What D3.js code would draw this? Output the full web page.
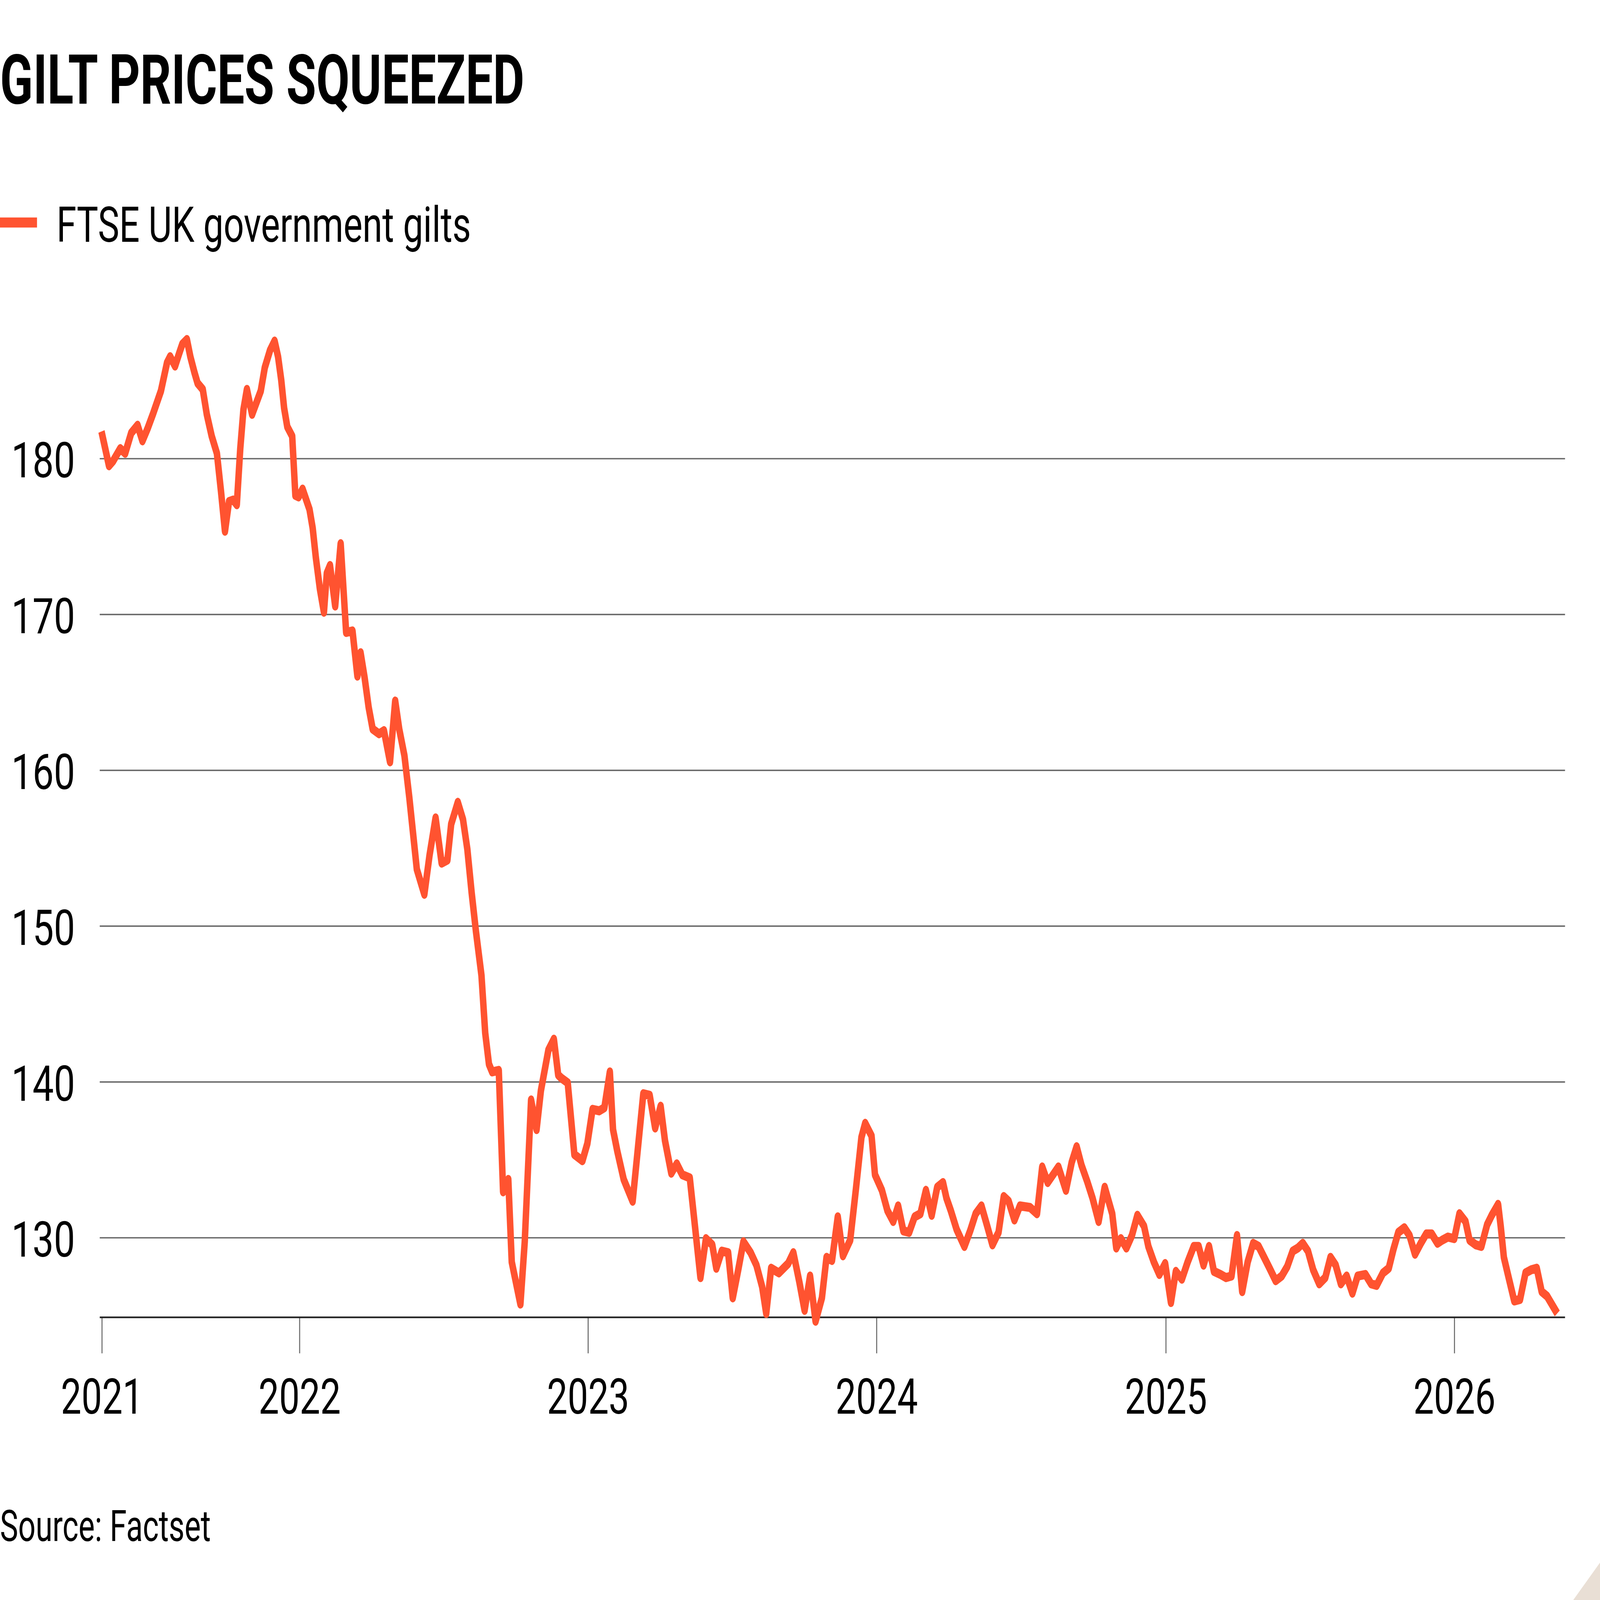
<!DOCTYPE html>
<html>
<head>
<meta charset="utf-8">
<script src="https://cdnjs.cloudflare.com/ajax/libs/d3/7.8.5/d3.min.js"></script>
<style>
  html, body { margin: 0; padding: 0; background: #fff; overflow: hidden; }
  svg { display: block; }
  text { font-family: Roboto, "Noto Sans", sans-serif; fill: #000; }
</style>
</head>
<body>
<svg id="chart"></svg>
<script>

// weekly-ish readings, decimal years
let time = [
  2021.315, 2021.341, 2021.355, 2021.380, 2021.397, 2021.418, 2021.440, 2021.457, 2021.475, 2021.493,
  2021.521, 2021.542, 2021.553, 2021.570, 2021.584, 2021.595, 2021.611, 2021.623, 2021.637, 2021.648,
  2021.666, 2021.680, 2021.697, 2021.715, 2021.729, 2021.743, 2021.757, 2021.772, 2021.784, 2021.796,
  2021.807, 2021.819, 2021.837, 2021.853, 2021.867, 2021.881, 2021.899, 2021.915, 2021.927, 2021.938,
  2021.948, 2021.959, 2021.976, 2021.987, 2021.998, 2022.012, 2022.036, 2022.047, 2022.058, 2022.072,
  2022.086, 2022.096, 2022.107, 2022.125, 2022.144, 2022.163, 2022.185, 2022.202, 2022.213, 2022.227,
  2022.241, 2022.255, 2022.277, 2022.294, 2022.315, 2022.333, 2022.347, 2022.365, 2022.382,
  2022.408, 2022.434, 2022.452, 2022.473, 2022.494, 2022.514, 2022.527, 2022.550, 2022.568, 2022.583,
  2022.598, 2022.613, 2022.632, 2022.645, 2022.658, 2022.669, 2022.692, 2022.707, 2022.725, 2022.737,
  2022.767, 2022.782, 2022.804, 2022.823, 2022.838, 2022.864, 2022.883, 2022.898, 2022.909, 2022.931,
  2022.954, 2022.982, 2022.999, 2023.017, 2023.040, 2023.058, 2023.077, 2023.088, 2023.103, 2023.125,
  2023.156, 2023.193, 2023.215, 2023.234, 2023.253, 2023.268, 2023.290, 2023.309, 2023.328, 2023.354,
  2023.372, 2023.391, 2023.410, 2023.432,
  2023.446, 2023.465, 2023.487, 2023.503, 2023.522, 2023.540, 2023.565, 2023.585, 2023.605, 2023.619,
  2023.636, 2023.663, 2023.695, 2023.713, 2023.734, 2023.752, 2023.771, 2023.790, 2023.812, 2023.828,
  2023.847, 2023.867, 2023.885, 2023.910, 2023.930, 2023.949, 2023.962, 2023.984, 2023.996, 2024.020,
  2024.039, 2024.059, 2024.076, 2024.094, 2024.114, 2024.133, 2024.153, 2024.172, 2024.192, 2024.211,
  2024.231, 2024.243, 2024.258, 2024.278, 2024.305, 2024.325, 2024.344, 2024.364, 2024.384, 2024.402,
  2024.423, 2024.441, 2024.458, 2024.478, 2024.497, 2024.532, 2024.556, 2024.574, 2024.593, 2024.630,
  2024.656, 2024.676, 2024.693, 2024.710, 2024.729, 2024.748, 2024.769, 2024.790, 2024.816, 2024.830,
  2024.846, 2024.865, 2024.884, 2024.903, 2024.926, 2024.941, 2024.960, 2024.979, 2024.999, 2025.019,
  2025.036, 2025.057, 2025.077, 2025.098, 2025.115, 2025.132, 2025.151, 2025.168, 2025.191, 2025.210,
  2025.229, 2025.248, 2025.266, 2025.285, 2025.304, 2025.323, 2025.342, 2025.361, 2025.382, 2025.403,
  2025.422, 2025.441, 2025.459, 2025.476, 2025.494, 2025.512, 2025.533, 2025.554, 2025.572, 2025.590,
  2025.608, 2025.628, 2025.648, 2025.666,
  2025.693, 2025.713, 2025.732, 2025.754, 2025.774, 2025.790, 2025.807, 2025.828, 2025.846, 2025.865,
  2025.885, 2025.904, 2025.923, 2025.943, 2025.959, 2025.979, 2026.001, 2026.019, 2026.040, 2026.054,
  2026.076, 2026.095, 2026.115, 2026.131, 2026.153, 2026.162, 2026.173, 2026.187, 2026.209, 2026.229,
  2026.248, 2026.268, 2026.287, 2026.304, 2026.323, 2026.358
];

let price = [
  181.7, 179.5, 179.8, 180.6, 180.3, 181.6, 182.1, 181.1, 181.9, 182.8,
  184.3, 186.1, 186.5, 185.9, 186.7, 187.3, 187.6, 186.5, 185.5, 184.8,
  184.4, 182.8, 181.4, 180.3, 177.9, 175.3, 177.2, 177.3, 177.0, 180.6,
  183.1, 184.4, 182.8, 183.6, 184.3, 185.8, 186.9, 187.5, 186.5, 185.0,
  183.2, 182.0, 181.4, 177.6, 177.5, 178.0, 176.7, 175.5, 173.6, 171.6,
  170.1, 172.6, 173.1, 170.5, 174.5, 168.8, 168.9, 166.0, 167.5, 165.9,
  164.0, 162.6, 162.3, 162.5, 160.5, 164.4, 162.6, 160.9, 158.2,
  153.6, 152.0, 154.5, 156.9, 154.0, 154.2, 156.5, 157.9, 156.8, 154.9,
  152.1, 149.6, 146.8, 143.1, 141.1, 140.6, 140.7, 132.9, 133.7, 128.4,
  125.7, 129.7, 138.8, 136.9, 139.4, 142.0, 142.7, 140.4, 140.2, 139.9,
  135.3, 134.9, 136.0, 138.2, 138.1, 138.3, 140.6, 136.9, 135.5, 133.7,
  132.3, 139.2, 139.1, 137.0, 138.4, 136.2, 134.1, 134.7, 134.0, 133.8,
  130.7, 127.4, 129.9, 129.5,
  128.0, 129.1, 129.0, 126.1, 127.9, 129.7, 129.0, 128.2, 126.8, 125.1,
  128.0, 127.7, 128.3, 129.0, 127.1, 125.3, 127.5, 124.6, 126.1, 128.7,
  128.5, 131.3, 128.8, 129.8, 133.1, 136.4, 137.3, 136.5, 134.0, 133.0,
  131.7, 131.0, 132.0, 130.4, 130.3, 131.3, 131.5, 133.0, 131.4, 133.2,
  133.5, 132.5, 131.7, 130.5, 129.4, 130.4, 131.5, 132.0, 130.7, 129.5,
  130.3, 132.6, 132.3, 131.1, 132.0, 131.9, 131.5, 134.5, 133.5, 134.5,
  133.0, 134.8, 135.8, 134.6, 133.6, 132.5, 131.0, 133.2, 131.5, 129.3,
  129.9, 129.3, 130.1, 131.4, 130.7, 129.4, 128.4, 127.6, 128.3, 125.8,
  127.8, 127.3, 128.4, 129.4, 129.4, 128.2, 129.4, 127.8, 127.6, 127.4,
  127.5, 130.1, 126.5, 128.4, 129.6, 129.4, 128.7, 128.0, 127.2, 127.5,
  128.1, 129.1, 129.3, 129.6, 129.1, 127.9, 127.0, 127.4, 128.7, 128.2,
  127.0, 127.5, 126.4, 127.5,
  127.6, 127.0, 126.9, 127.7, 128.0, 129.2, 130.3, 130.6, 130.1, 128.9,
  129.6, 130.2, 130.2, 129.6, 129.8, 130.0, 129.9, 131.5, 131.0, 129.8,
  129.5, 129.4, 130.8, 131.4, 132.1, 130.7, 128.7, 127.6, 125.9, 126.0,
  127.7, 127.9, 128.0, 126.5, 126.2, 125.1
];

let yTicks = [130, 140, 150, 160, 170, 180];
let xTickYears = [2022, 2023, 2024, 2025, 2026];

let title = 'GILT PRICES SQUEEZED';
let seriesName = 'FTSE UK government gilts';
let source = 'Source: Factset';

// decimal year -> Date
function toDate(t) {
    let y = Math.floor(t);
    let a = Date.UTC(y, 0, 1), b = Date.UTC(y + 1, 0, 1);
    return new Date(a + (t - y) * (b - a));
}

let data = time.map((t, i) => ({ date: toDate(t), value: price[i] }));

// drawing in a 1556 x 1111 space, stretched to the window
let W = 1556, H = 1111;
let svg = d3.select('#chart')
    .attr('width', window.innerWidth)
    .attr('height', window.innerHeight)
    .attr('viewBox', `0 0 ${W} ${H}`)
    .attr('preserveAspectRatio', 'none');

svg.append('rect').attr('width', W).attr('height', H).attr('fill', '#fff');

let left = 97, right = 1522;

let x = d3.scaleUtc()
    .domain([toDate(2021.315), toDate(2026.385)])
    .range([98.7, right]);

let y = d3.scaleLinear()
    .domain([130, 180])
    .range([859, 318]);

let bottom = y(124.85);

// title
svg.append('text')
    .attr('x', 0).attr('y', 72)
    .attr('font-size', 48)
    .attr('font-weight', 700)
    .attr('textLength', 510)
    .attr('lengthAdjust', 'spacingAndGlyphs')
    .text(title);

// legend
svg.append('line')
    .attr('x1', 0).attr('x2', 36)
    .attr('y1', 154.5).attr('y2', 154.5)
    .attr('stroke', '#ff5330')
    .attr('stroke-width', 7);

svg.append('text')
    .attr('x', 55).attr('y', 168)
    .attr('font-size', 34)
    .attr('textLength', 403)
    .attr('lengthAdjust', 'spacingAndGlyphs')
    .text(seriesName);

// y gridlines and labels
let yAxis = svg.append('g')
    .attr('transform', `translate(${left},0)`)
    .call(d3.axisLeft(y)
        .tickValues(yTicks)
        .tickSize(-(right - left))
        .tickPadding(24));

yAxis.select('.domain').remove();
yAxis.selectAll('.tick line')
    .attr('stroke', '#6b6b6b')
    .attr('stroke-width', 1);
yAxis.selectAll('.tick text')
    .attr('font-size', 34)
    .attr('font-family', 'Roboto, sans-serif')
    .attr('fill', '#000')
    .attr('dy', 13)
    .attr('textLength', 62)
    .attr('lengthAdjust', 'spacingAndGlyphs');

// x axis
let xTicks = [toDate(time[0])].concat(xTickYears.map(yr => new Date(Date.UTC(yr, 0, 1))));

let xAxis = svg.append('g')
    .attr('transform', `translate(0,${bottom})`)
    .call(d3.axisBottom(x)
        .tickValues(xTicks)
        .tickSize(25)
        .tickFormat(d3.utcFormat('%Y')));

xAxis.select('.domain').remove();
xAxis.selectAll('.tick line')
    .attr('stroke', '#6b6b6b')
    .attr('stroke-width', 1);
xAxis.selectAll('.tick text')
    .attr('font-size', 34)
    .attr('font-family', 'Roboto, sans-serif')
    .attr('fill', '#000')
    .attr('y', 67)
    .attr('dy', 0)
    .attr('textLength', 80)
    .attr('lengthAdjust', 'spacingAndGlyphs');

// baseline
svg.append('line')
    .attr('x1', left).attr('x2', right)
    .attr('y1', bottom).attr('y2', bottom)
    .attr('stroke', '#222')
    .attr('stroke-width', 1.2);

// the series
let line = d3.line()
    .x(d => x(d.date))
    .y(d => y(d.value));

svg.append('path')
    .datum(data)
    .attr('d', line)
    .attr('fill', 'none')
    .attr('stroke', '#ff5330')
    .attr('stroke-width', 6.3)
    .attr('stroke-linejoin', 'round');

// source
svg.append('text')
    .attr('x', 0).attr('y', 1070)
    .attr('font-size', 30)
    .attr('textLength', 205)
    .attr('lengthAdjust', 'spacingAndGlyphs')
    .text(source);

// folded corner
svg.append('path')
    .attr('d', `M${W},${H - 26} L${W},${H} L${W - 26},${H} Z`)
    .attr('fill', '#e9dfd5');

</script>
</body>
</html>
